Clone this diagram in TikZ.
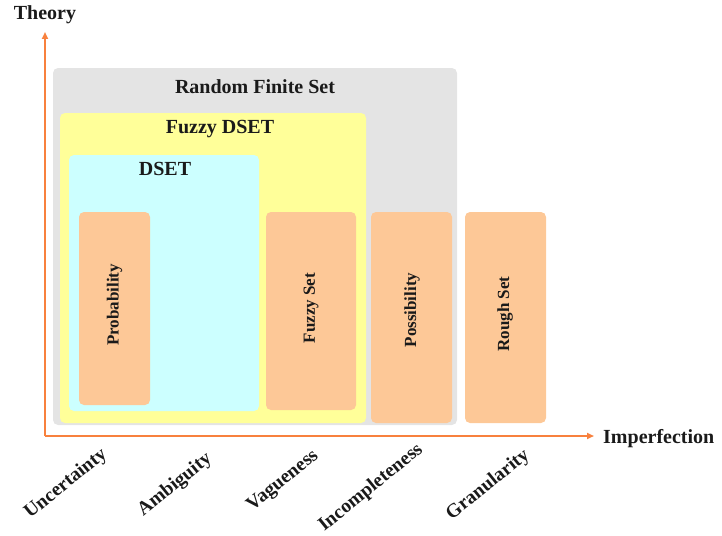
\documentclass[tikz,border=0pt]{standalone}
\usepackage{fontspec}
\setmainfont{Liberation Serif}
\usetikzlibrary{arrows.meta}
\definecolor{rfsgray}{HTML}{E4E4E4}
\definecolor{fzyellow}{HTML}{FFFF99}
\definecolor{dscyan}{HTML}{CCFFFF}
\definecolor{peach}{HTML}{FDC897}
\definecolor{axisorange}{HTML}{F8813E}
\definecolor{txt}{HTML}{1A1A1A}
\tikzset{
  region/.style={rounded corners=5pt},
  theorybox/.style={fill=peach, rounded corners=5pt},
  head/.style={font=\fontsize{20}{24}\selectfont\bfseries, text=txt, inner sep=0pt},
  boxlabel/.style={font=\fontsize{17}{20}\selectfont\bfseries, text=txt, rotate=90, inner sep=0pt},
  imperf/.style={font=\fontsize{19.5}{23}\selectfont\bfseries, text=txt, rotate=39, inner sep=0pt},
  axis/.style={draw=axisorange, line width=2.5pt, -{Triangle[length=7pt,width=6pt]}}
}
\begin{document}
\begin{tikzpicture}[x=1pt,y=-1pt]
\useasboundingbox (0,0) rectangle (722,535);
% regions
\fill[rfsgray, region] (53,68) rectangle (457,425);
\fill[fzyellow, region] (60,113) rectangle (366,423);
\fill[dscyan, region] (69,155) rectangle (259,411);
% theory boxes
\fill[theorybox] (79,212) rectangle (150,405);
\fill[theorybox] (266,212) rectangle (356,410);
\fill[theorybox] (371,212) rectangle (452,423);
\fill[theorybox] (465,212) rectangle (546,423);
% headings
\node[head, anchor=base] (rfs) at (255,93) {Random Finite Set};
\node[head, anchor=base] (fdset) at (220,133) {Fuzzy DSET};
\node[head, anchor=base] (dset) at (165,175) {DSET};
% box labels
\node[boxlabel] (prob) at (114.5,305) {Probability};
\node[boxlabel] (fset) at (311,308) {Fuzzy Set};
\node[boxlabel] (poss) at (412,310) {Possibility};
\node[boxlabel] (rough) at (505,314) {Rough Set};
% axes
\coordinate (origin) at (45,436);
\coordinate (ytip) at (45,32);
\coordinate (xtip) at (594,436);
\draw[axis] (origin) -- (ytip);
\draw[axis] (origin) -- (xtip);
\node[head, anchor=base] (theory) at (45,20) {Theory};
\node[head, anchor=base west] (imp) at (603,443) {Imperfection};
% imperfection types
\node[imperf] (unc) at (66,484) {Uncertainty};
\node[imperf] (amb) at (175,485) {Ambiguity};
\node[imperf] (vag) at (283,481) {Vagueness};
\node[imperf] (inc) at (371,488) {Incompleteness};
\node[imperf] (gran) at (488,485) {Granularity};
\end{tikzpicture}
\end{document}
